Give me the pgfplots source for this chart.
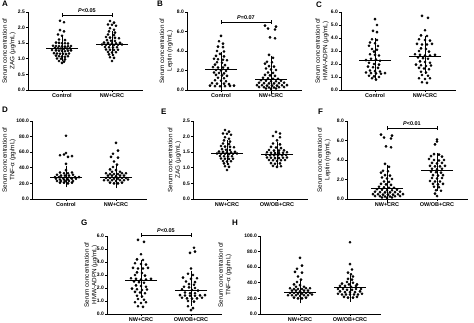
\documentclass[border=0pt]{standalone}
\usepackage{fontspec}
\setmainfont{Liberation Sans}
\usepackage{pgfplots}
\usepackage{pgfplotstable}
\pgfplotsset{compat=1.18}

% ---------- data: d = horizontal swarm offset (px), v = value ----------
\pgfplotstableread[row sep=\\]{d v\\ -2 2.22\\ 2 2.17\\ -2 1.92\\ 2 1.88\\ -4 1.78\\ 0 1.74\\ -3 1.62\\ 3 1.60\\ -6 1.52\\ -3 1.51\\ 0 1.50\\ 3 1.50\\ 6 1.49\\ -9 1.42\\ -6 1.41\\ -3 1.40\\ 0 1.40\\ 3 1.39\\ 6 1.40\\ 9 1.41\\ -7 1.35\\ -4 1.34\\ -1 1.33\\ 2 1.32\\ 5 1.33\\ 8 1.34\\ -10 1.28\\ -6 1.27\\ -3 1.26\\ 0 1.25\\ 3 1.24\\ 6 1.26\\ 9 1.27\\ -8 1.18\\ -5 1.17\\ -2 1.16\\ 1 1.16\\ 4 1.15\\ 7 1.17\\ -6 1.10\\ -3 1.08\\ 0 1.07\\ 3 1.06\\ 6 1.08\\ -5 1.01\\ -1 1.00\\ 3 0.98\\ -3 0.93\\ 2 0.91\\ 0 0.87\\}\tabAC
\pgfplotstableread[row sep=\\]{d v\\ -2 2.21\\ 2 2.16\\ -4 2.10\\ 0 2.09\\ 4 2.06\\ -2 1.98\\ 2 1.93\\ -3 1.88\\ 3 1.84\\ -4 1.78\\ 2 1.76\\ -6 1.70\\ -2 1.68\\ 3 1.67\\ 7 1.66\\ -5 1.60\\ -1 1.58\\ 3 1.57\\ -8 1.52\\ -4 1.51\\ 0 1.50\\ 4 1.50\\ 8 1.51\\ -10 1.46\\ -6 1.45\\ -2 1.45\\ 2 1.44\\ 6 1.45\\ 10 1.46\\ -7 1.38\\ -3 1.37\\ 1 1.36\\ 5 1.37\\ -6 1.30\\ -2 1.29\\ 2 1.28\\ 6 1.29\\ -4 1.22\\ 0 1.20\\ 4 1.21\\ -3 1.14\\ 1 1.12\\ -2 1.05\\ 2 1.03\\ 0 0.93\\}\tabNWzag
\pgfplotstableread[row sep=\\]{d v\\ 0 5.55\\ -2 5.00\\ 2 4.75\\ -3 4.45\\ 2 4.40\\ -4 4.00\\ 3 3.95\\ -1 3.70\\ -5 3.50\\ 3 3.45\\ -7 3.20\\ -3 3.15\\ 2 3.10\\ 6 3.05\\ -4 2.85\\ 1 2.80\\ -6 2.60\\ 4 2.55\\ -8 2.35\\ -3 2.30\\ 2 2.30\\ 7 2.25\\ -5 2.05\\ 0 2.00\\ 5 1.95\\ -7 1.80\\ -2 1.75\\ 3 1.70\\ -5 1.55\\ 1 1.50\\ 6 1.45\\ -3 1.25\\ 3 1.20\\ -6 1.00\\ 0 0.95\\ 5 0.90\\ -9 0.70\\ -4 0.65\\ 3 0.65\\ 8 0.60\\ -11 0.45\\ -6 0.40\\ -1 0.38\\ 4 0.40\\ 9 0.42\\ 13 0.45\\}\tabBC
\pgfplotstableread[row sep=\\]{d v\\ -6 6.60\\ 5 6.50\\ -3 6.30\\ 4 6.20\\ -1 5.40\\ 4 5.30\\ -2 3.60\\ 2 3.30\\ -4 2.90\\ 1 2.85\\ -6 2.70\\ -2 2.45\\ 3 2.40\\ -5 2.20\\ 0 2.10\\ 5 2.05\\ -3 1.80\\ 2 1.75\\ -6 1.55\\ -1 1.50\\ 4 1.45\\ -8 1.25\\ -3 1.20\\ 2 1.15\\ 7 1.15\\ -10 1.00\\ -5 0.95\\ 0 0.90\\ 5 0.90\\ 10 0.95\\ -12 0.75\\ -7 0.70\\ -2 0.68\\ 3 0.68\\ 8 0.70\\ 13 0.75\\ -14 0.50\\ -9 0.48\\ -4 0.45\\ 1 0.45\\ 6 0.45\\ 11 0.48\\ 16 0.50\\ -12 0.30\\ -7 0.28\\ -2 0.25\\ 3 0.25\\ 8 0.28\\ 13 0.30\\ -5 0.15\\ 0 0.12\\ 5 0.15\\}\tabNWlep
\pgfplotstableread[row sep=\\]{d v\\ 0 5.45\\ 2 5.00\\ -2 4.55\\ 2 4.45\\ -3 3.90\\ 2 3.85\\ -5 3.65\\ 0 3.60\\ -6 3.40\\ 3 3.38\\ -3 3.15\\ 2 3.10\\ -1 2.95\\ -5 2.75\\ 0 2.70\\ 4 2.65\\ -4 2.40\\ 1 2.35\\ -9 2.30\\ 5 2.25\\ -6 2.10\\ -1 2.00\\ 4 1.95\\ -7 1.80\\ -2 1.75\\ 3 1.70\\ -5 1.50\\ 0 1.45\\ 5 1.42\\ -9 1.35\\ -4 1.30\\ 1 1.28\\ 6 1.25\\ 10 1.30\\ -6 1.10\\ -1 1.05\\ 4 1.00\\ -3 0.90\\ 1 0.80\\}\tabCC
\pgfplotstableread[row sep=\\]{d v\\ -3 5.70\\ 3 5.55\\ 0 4.60\\ -4 4.20\\ 2 4.15\\ -6 3.90\\ 0 3.85\\ 5 3.80\\ -8 3.55\\ -3 3.50\\ 2 3.50\\ 7 3.55\\ -4 3.20\\ 1 3.15\\ -6 3.00\\ 4 2.95\\ -10 2.75\\ -5 2.70\\ 0 2.65\\ 5 2.65\\ 10 2.70\\ -7 2.50\\ -2 2.45\\ 3 2.40\\ -5 2.20\\ 0 2.15\\ 5 2.10\\ -9 1.95\\ -4 1.90\\ 1 1.85\\ 6 1.88\\ -6 1.70\\ -1 1.65\\ 4 1.60\\ -4 1.40\\ 1 1.35\\ -3 1.15\\ 3 1.10\\ -6 0.90\\ 0 0.85\\ 5 0.90\\ -3 0.60\\ 2 0.55\\}\tabNWadp
\pgfplotstableread[row sep=\\]{d v\\ 0 81\\ 0 59\\ -6 56\\ -2 57\\ 2 54\\ 6 55\\ 0 45\\ 0 37\\ -6 34\\ -2 33\\ 2 33\\ 6 34\\ -9 31\\ -5 30\\ -1 30\\ 3 30\\ 7 31\\ -11 28\\ -7 28\\ -3 27\\ 1 27\\ 5 27\\ 9 28\\ 13 28\\ -10 26\\ -6 25\\ -2 25\\ 2 25\\ 6 26\\ 10 26\\ -9 23\\ -5 23\\ -1 23\\ 3 23\\ 7 23\\ -6 21\\ -2 21\\ 2 20\\ 6 21\\}\tabDC
\pgfplotstableread[row sep=\\]{d v\\ 0 72\\ 2 62\\ -3 58\\ -5 54\\ 2 53\\ -2 48\\ 1 44\\ -3 41\\ -6 38\\ 0 37\\ -4 35\\ 4 35\\ -10 33\\ -6 32\\ -2 32\\ 2 32\\ 6 33\\ 10 33\\ -8 30\\ -4 30\\ 0 29\\ 4 30\\ 8 30\\ -10 27\\ -6 27\\ -2 26\\ 2 26\\ 6 27\\ 10 27\\ -12 24\\ -8 24\\ -4 24\\ 0 23\\ 4 24\\ 8 24\\ 12 25\\ -6 21\\ -2 20\\ 2 20\\ 6 21\\}\tabNWtnf
\pgfplotstableread[row sep=\\]{d v\\ -1 2.15\\ 3 2.10\\ -4 2.02\\ 3 1.98\\ 0 1.88\\ -4 1.78\\ 3 1.75\\ -6 1.67\\ -1 1.65\\ 4 1.63\\ -8 1.57\\ -3 1.55\\ 2 1.55\\ 7 1.56\\ -10 1.50\\ -6 1.48\\ -2 1.47\\ 2 1.47\\ 6 1.48\\ 10 1.50\\ -11 1.42\\ -7 1.40\\ -3 1.40\\ 1 1.40\\ 5 1.40\\ 9 1.41\\ -10 1.33\\ -6 1.32\\ -2 1.31\\ 2 1.31\\ 6 1.32\\ 10 1.33\\ -8 1.25\\ -4 1.24\\ 0 1.22\\ 4 1.24\\ 8 1.25\\ -6 1.15\\ -2 1.13\\ 3 1.14\\ -4 1.06\\ 0 1.03\\ 4 1.05\\}\tabEO
\pgfplotstableread[row sep=\\]{d v\\ 0 6.10\\ 0 5.90\\ -2 5.60\\ -3 4.60\\ 2 4.55\\ -6 4.40\\ 5 4.35\\ -8 4.10\\ -3 4.00\\ 2 3.95\\ 7 4.00\\ -5 3.70\\ 0 3.65\\ 5 3.70\\ -7 3.40\\ -2 3.35\\ 3 3.35\\ 8 3.40\\ -5 3.10\\ 0 3.05\\ 5 3.10\\ -6 2.80\\ -1 2.75\\ 4 2.70\\ -4 2.45\\ 1 2.40\\ 6 2.45\\ -5 2.15\\ 0 2.10\\ 5 2.15\\ -7 1.85\\ -2 1.80\\ 3 1.80\\ -4 1.55\\ 1 1.50\\ 6 1.55\\ -3 1.25\\ 2 1.20\\ -1 0.90\\ 4 0.85\\ -2 0.55\\ 0 0.30\\}\tabFO
\pgfplotstableread[row sep=\\]{d v\\ 3 5.10\\ 4 4.80\\ -1 4.70\\ 0 3.50\\ -3 3.10\\ 2 3.00\\ -8 2.80\\ 6 2.75\\ 0 2.70\\ -5 2.50\\ 4 2.45\\ -2 2.30\\ 3 2.25\\ -7 2.10\\ -2 2.05\\ 4 2.00\\ -9 1.90\\ 1 1.85\\ 7 1.80\\ -6 1.65\\ -1 1.60\\ 4 1.60\\ -11 1.45\\ -6 1.42\\ -1 1.40\\ 4 1.40\\ 9 1.43\\ 14 1.45\\ -9 1.25\\ -4 1.20\\ 1 1.18\\ 6 1.20\\ 11 1.25\\ -3 1.00\\ 3 0.95\\ -3 0.60\\ 2 0.45\\ 0 0.30\\}\tabGO
\pgfplotstableread[row sep=\\]{d v\\ 0 92\\ 0 64\\ 2 57\\ -2 53\\ 1 51\\ 3 48\\ -2 45\\ 2 44\\ -3 41\\ 3 40\\ -8 39\\ -1 38\\ 7 38\\ -10 36\\ -5 36\\ 1 35\\ 6 36\\ -12 32\\ -7 32\\ -3 31\\ 2 31\\ 6 32\\ 11 32\\ -10 29\\ -5 28\\ 0 28\\ 5 28\\ 10 29\\ -12 26\\ -8 25\\ -4 25\\ 0 25\\ 4 25\\ 8 25\\ 12 26\\ -6 22\\ -2 21\\ 3 21\\ 7 22\\}\tabHO

\pgfplotsset{
  panel/.style={
    scale only axis, width=115pt, height=78pt,
    xmin=0.32, xmax=2.62, ymin=0,
    axis x line*=bottom, axis y line*=left,
    axis line style={line width=0.7pt},
    xtick={1,2}, tick align=outside, major tick length=2pt,
    tick style={line width=0.6pt, black},
    xticklabel style={font=\bfseries\fontsize{5.5}{6}\selectfont, inner sep=1.5pt},
    yticklabel style={font=\bfseries\fontsize{5}{6}\selectfont, inner sep=1pt, /pgf/number format/fixed, /pgf/number format/fixed zerofill, /pgf/number format/precision=1, /pgf/number format/assume math mode=true},
    ylabel style={font=\fontsize{6.3}{7.5}\selectfont, align=center, anchor=center},
    clip=false, anchor=south west,
  },
  ylab/.style={ylabel style={at={(axis description cs:#1,0.5)}}},
  dots/.style={only marks, mark=*, mark size=1.15pt, black},
  med/.style={black, only marks, mark=-, mark size=16pt, mark options={line width=0.8pt}},
  iqr/.style={black, mark=none, draw=none,
    error bars/.cd, y dir=both, y explicit, error mark=-,
    error mark options={black, line width=0.7pt, mark size=8pt},
    error bar style={draw=black, line width=0.7pt}},
}
\newcommand{\plab}[3]{\node[anchor=north west, inner sep=0pt, font=\bfseries\fontsize{8}{9}\selectfont] at (#1pt,#2pt) {#3};}
\newcommand{\pbracket}[2]{%
  \draw[line width=0.6pt] (axis cs:1,#1) -- (axis cs:2,#1);
  \draw[line width=0.6pt] ([yshift=-2pt]axis cs:1,#1) -- ([yshift=2pt]axis cs:1,#1);
  \draw[line width=0.6pt] ([yshift=-2pt]axis cs:2,#1) -- ([yshift=2pt]axis cs:2,#1);
  \node[font=\bfseries\fontsize{5.5}{6}\selectfont, anchor=south, inner sep=1pt] at ([yshift=1.5pt]axis cs:1.5,#1) {#2};}

\begin{document}
\begin{tikzpicture}
\path[use as bounding box] (0,0) rectangle (474pt,323pt);

% ---------------- A ----------------
\begin{axis}[panel, ylab=-0.165, at={(28pt,233pt)}, ymax=2.5, ytick={0,0.5,1,1.5,2,2.5},
  xticklabels={Control,NW+CRC}, ylabel={Serum concentration of\\ZAG (μg/mL)}]
\addplot[dots] table[x expr=1+\thisrow{d}/50, y=v]{\tabAC};
\addplot[dots] table[x expr=2+\thisrow{d}/50, y=v]{\tabNWzag};
\addplot[med] coordinates {(1,1.32) (2,1.46)};
\addplot[iqr] coordinates {(1,1.32) += (0,0.18) -= (0,0.12) (2,1.46) += (0,0.19) -= (0,0.12)};
\pbracket{2.40}{\textit{P}<0.05}
\end{axis}

% ---------------- B ----------------
\begin{axis}[panel, ylab=-0.18, at={(187pt,233pt)}, ymax=8, ytick={0,2,4,6,8},
  xticklabels={Control,NW+CRC}, ylabel={Serum concentration of\\Leptin (ng/mL)}]
\addplot[dots] table[x expr=1+\thisrow{d}/50, y=v]{\tabBC};
\addplot[dots] table[x expr=2+\thisrow{d}/50, y=v]{\tabNWlep};
\addplot[med] coordinates {(1,2.1) (2,1.1)};
\addplot[iqr] coordinates {(1,2.1) += (0,0.96) -= (0,1.28) (2,1.1) += (0,1.6) -= (0,0.7)};
\pbracket{6.97}{\textit{P}=0.07}
\end{axis}

% ---------------- C ----------------
\begin{axis}[panel, ylab=-0.165, at={(341pt,233pt)}, ymax=6, ytick={0,1,2,3,4,5,6},
  xticklabels={Control,NW+CRC}, ylabel={Serum concentration of\\HMW-ADPN (μg/mL)}]
\addplot[dots] table[x expr=1+\thisrow{d}/50, y=v]{\tabCC};
\addplot[dots] table[x expr=2+\thisrow{d}/50, y=v]{\tabNWadp};
\addplot[med] coordinates {(1,2.25) (2,2.6)};
\addplot[iqr] coordinates {(1,2.25) += (0,1.15) -= (0,0.8) (2,2.6) += (0,0.9) -= (0,0.75)};
\end{axis}

% ---------------- D ----------------
\begin{axis}[panel, ylab=-0.2, at={(32pt,124pt)}, ymax=100, ytick={0,20,40,60,80,100},
  xticklabels={Control,NW+CRC}, ylabel={Serum concentration of\\TNF-α (pg/mL)}]
\addplot[dots] table[x expr=1+\thisrow{d}/50, y=v]{\tabDC};
\addplot[dots] table[x expr=2+\thisrow{d}/50, y=v]{\tabNWtnf};
\addplot[med] coordinates {(1,28) (2,28)};
\addplot[iqr] coordinates {(1,28) += (0,4) -= (0,3) (2,28) += (0,7) -= (0,4)};
\end{axis}

% ---------------- E ----------------
\begin{axis}[panel, ylab=-0.16, at={(193pt,124pt)}, ymax=2.5, ytick={0,0.5,1,1.5,2,2.5},
  xticklabels={NW+CRC,OW/OB+CRC}, ylabel={Serum concentration of\\ZAG (μg/mL)}]
\addplot[dots] table[x expr=1+\thisrow{d}/50, y=v]{\tabNWzag};
\addplot[dots] table[x expr=2+\thisrow{d}/50, y=v]{\tabEO};
\addplot[med] coordinates {(1,1.46) (2,1.42)};
\addplot[iqr] coordinates {(1,1.46) += (0,0.19) -= (0,0.12) (2,1.42) += (0,0.16) -= (0,0.12)};
\end{axis}

% ---------------- F ----------------
\begin{axis}[panel, ylab=-0.19, at={(347pt,124pt)}, width=121pt, xmin=0.2, ymax=8, ytick={0,2,4,6,8},
  xticklabels={NW+CRC,OW/OB+CRC}, ylabel={Serum concentration of\\Leptin (ng/mL)}]
\addplot[dots] table[x expr=1+\thisrow{d}/50, y=v]{\tabNWlep};
\addplot[dots] table[x expr=2+\thisrow{d}/50, y=v]{\tabFO};
\addplot[med] coordinates {(1,1.1) (2,2.95)};
\addplot[iqr] coordinates {(1,1.1) += (0,1.6) -= (0,0.7) (2,2.95) += (0,0.95) -= (0,1.3)};
\pbracket{7.28}{\textit{P}<0.01}
\end{axis}

% ---------------- G ----------------
\begin{axis}[panel, ylab=-0.14, at={(107pt,9pt)}, ymax=6, ytick={0,1,2,3,4,5,6},
  xticklabels={NW+CRC,OW/OB+CRC}, ylabel={Serum concentration of\\HMW-ADPN (μg/mL)}]
\addplot[dots] table[x expr=1+\thisrow{d}/50, y=v]{\tabNWadp};
\addplot[dots] table[x expr=2+\thisrow{d}/50, y=v]{\tabGO};
\addplot[med] coordinates {(1,2.6) (2,1.84)};
\addplot[iqr] coordinates {(1,2.6) += (0,0.9) -= (0,0.75) (2,1.84) += (0,0.89) -= (0,0.64)};
\pbracket{6.08}{\textit{P}<0.05}
\end{axis}

% ---------------- H ----------------
\begin{axis}[panel, ylab=-0.29, at={(260pt,9pt)}, width=121pt, xmin=0.2, ymax=100, ytick={0,20,40,60,80,100},
  xticklabels={NW+CRC,OW/OB+CRC}, ylabel={Serum concentration of\\TNF-α (pg/mL)}]
\addplot[dots] table[x expr=1+\thisrow{d}/50, y=v]{\tabNWtnf};
\addplot[dots] table[x expr=2+\thisrow{d}/50, y=v]{\tabHO};
\addplot[med] coordinates {(1,28) (2,34)};
\addplot[iqr] coordinates {(1,28) += (0,7) -= (0,4) (2,34) += (0,6) -= (0,8)};
\end{axis}

% panel letters
\plab{2}{322}{A}
\plab{157}{322}{B}
\plab{316}{321}{C}
\plab{2}{216}{D}
\plab{161}{214}{E}
\plab{318}{214}{F}
\plab{81}{103}{G}
\plab{232}{103}{H}
\end{tikzpicture}
\end{document}
